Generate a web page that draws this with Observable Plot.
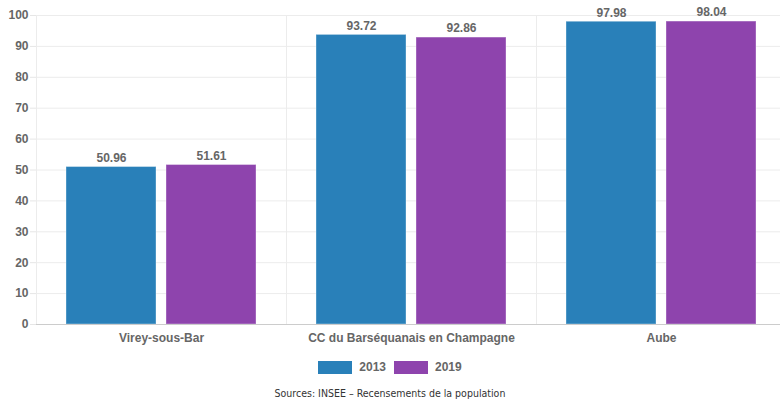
<!DOCTYPE html>
<html>
<head>
<meta charset="utf-8">
<script src="https://cdn.jsdelivr.net/npm/d3@7"></script>
<script src="https://cdn.jsdelivr.net/npm/@observablehq/plot@0.6"></script>
<style>
  body { margin: 0; background: #fff; overflow: hidden; }
  #chart { width: 780px; overflow: hidden; }
  #chart svg { display: block; max-width: none !important; width: 786px; height: 350px; }
  .legend { display: flex; justify-content: center; align-items: center; height: 16px; margin-top: 9px; font: bold 12px "Liberation Sans", Arial, sans-serif; color: #666; }
  .legend .item { display: flex; align-items: center; margin: 0 4px; }
  .legend .sw { width: 34px; height: 13px; margin-right: 7px; box-sizing: border-box; }
  .source { text-align: center; margin-top: 12px; font: 10.5px "DejaVu Sans Condensed", "DejaVu Sans", sans-serif; color: #333; }
</style>
</head>
<body>
<div id="chart"></div>
<script>
const categories = ["Virey-sous-Bar", "CC du Barséquanais en Champagne", "Aube"];
const years = ["2013", "2019"];
const values2013 = [50.96, 93.72, 97.98];
const values2019 = [51.61, 92.86, 98.04];
const yTicks = [0, 10, 20, 30, 40, 50, 60, 70, 80, 90, 100];
const colors = ["#2980b9", "#8e44ad"];
const sourceText = "Sources: INSEE \u2013 Recensements de la population";

const data = [];
categories.forEach((c, i) => {
  data.push({category: c, year: years[0], value: values2013[i]});
  data.push({category: c, year: years[1], value: values2019[i]});
});

const chart = Plot.plot({
  width: 786,
  height: 350,
  marginTop: 15,
  marginBottom: 26,
  marginLeft: 36,
  marginRight: 0,
  style: {fontFamily: "'Liberation Sans', Arial, sans-serif", fontSize: "12px", background: "#fff", maxWidth: "none"},
  fx: {domain: categories, padding: 0, label: null},
  x: {domain: years, paddingInner: 0.1, paddingOuter: 0.3, axis: null},
  y: {domain: [0, 100], label: null},
  color: {domain: years, range: colors},
  marks: [
    Plot.frame({stroke: "#ececec"}),
    Plot.ruleY(yTicks, {y: d => d, stroke: "#ececec"}),
    Plot.axisY(yTicks, {tickSize: 6, stroke: "#e6e6e6", tickPadding: 2, fill: "#666", fontWeight: "bold", fontSize: 12, label: null}),
    Plot.barY(data, {fx: "category", x: "year", y: "value", fill: "year", stroke: "#fff", strokeOpacity: 0.35}),
    Plot.ruleY([0], {stroke: "#ccc"}),
    Plot.text(data, {fx: "category", x: "year", y: "value", text: d => d.value.toFixed(2), dy: -9, fill: "#666", fontWeight: "bold", fontSize: 12}),
    Plot.axisFx({anchor: "bottom", tickSize: 0, tickPadding: 9, fill: "#666", fontWeight: "bold", fontSize: 12, label: null})
  ]
});
document.getElementById("chart").appendChild(chart);

const legend = document.createElement("div");
legend.className = "legend";
years.forEach((y, i) => {
  const item = document.createElement("div");
  item.className = "item";
  const sw = document.createElement("span");
  sw.className = "sw";
  sw.style.background = colors[i];
  const t = document.createElement("span");
  t.textContent = y;
  item.appendChild(sw);
  item.appendChild(t);
  legend.appendChild(item);
});
document.getElementById("chart").appendChild(legend);

const src = document.createElement("div");
src.className = "source";
src.textContent = sourceText;
document.getElementById("chart").appendChild(src);
</script>
</body>
</html>
